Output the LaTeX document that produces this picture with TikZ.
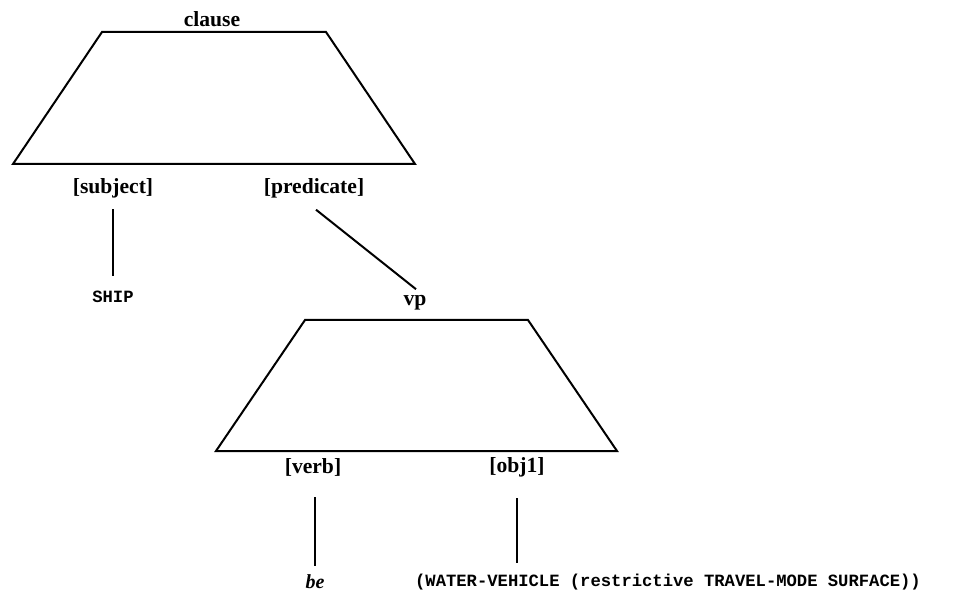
\documentclass[tikz,border=0pt]{standalone}
\usepackage{fontspec}
\setmainfont{Liberation Serif}
\setmonofont{Liberation Mono}
\begin{document}
\begin{tikzpicture}[x=0.5pt,y=-0.5pt,
  edge/.style={line width=1pt},
  trap/.style={line width=1pt, line join=miter},
  lbl/.style={inner sep=0pt, font=\fontsize{10.8}{12}\selectfont\bfseries},
  leaf/.style={inner sep=0pt, font=\fontsize{8.6}{10}\selectfont\ttfamily\bfseries}]
\useasboundingbox (0,0) rectangle (964,593);

% clause trapezoid
\draw[trap] (102,32) -- (326,32) -- (415,164) -- (13,164) -- cycle;
\node[lbl] (clause) at (212,19) {clause};
\node[lbl] (subject) at (113,188) {[subject]};
\node[lbl] (predicate) at (314,188) {[predicate]};
\node[leaf] (ship) at (113,297) {SHIP};

% vp trapezoid
\draw[trap] (305,320) -- (528,320) -- (617,451) -- (216,451) -- cycle;
\node[lbl] (vp) at (415,303) {vp};
\node[lbl] (verb) at (313,467) {[verb]};
\node[lbl] (obj) at (517,467) {[obj1]};
\node[inner sep=0pt, font=\fontsize{10}{12}\selectfont\bfseries\itshape] (be) at (315,582) {be};
\node[leaf] (filler) at (668,582) {(WATER-VEHICLE (restrictive TRAVEL-MODE SURFACE))};

% connector ends below the labels and above the fillers
\coordinate (predfoot) at ([shift={(1pt,-5.75pt)}]predicate.south);
\coordinate (vphead) at ([shift={(0.5pt,3pt)}]vp.north);
\coordinate (verbfoot) at (verb.south -| be.north);
\coordinate (objfoot) at (filler.north -| obj.south);

% connectors
\draw[edge, shorten <=5.5pt, shorten >=7.5pt] (subject.south) -- (ship.north);
\draw[edge] (predfoot) -- (vphead);
\draw[edge, shorten <=10.5pt, shorten >=4.5pt] (verbfoot) -- (be.north);
\draw[edge, shorten <=10.5pt, shorten >=5.5pt] (obj.south) -- (objfoot);
\end{tikzpicture}
\end{document}
